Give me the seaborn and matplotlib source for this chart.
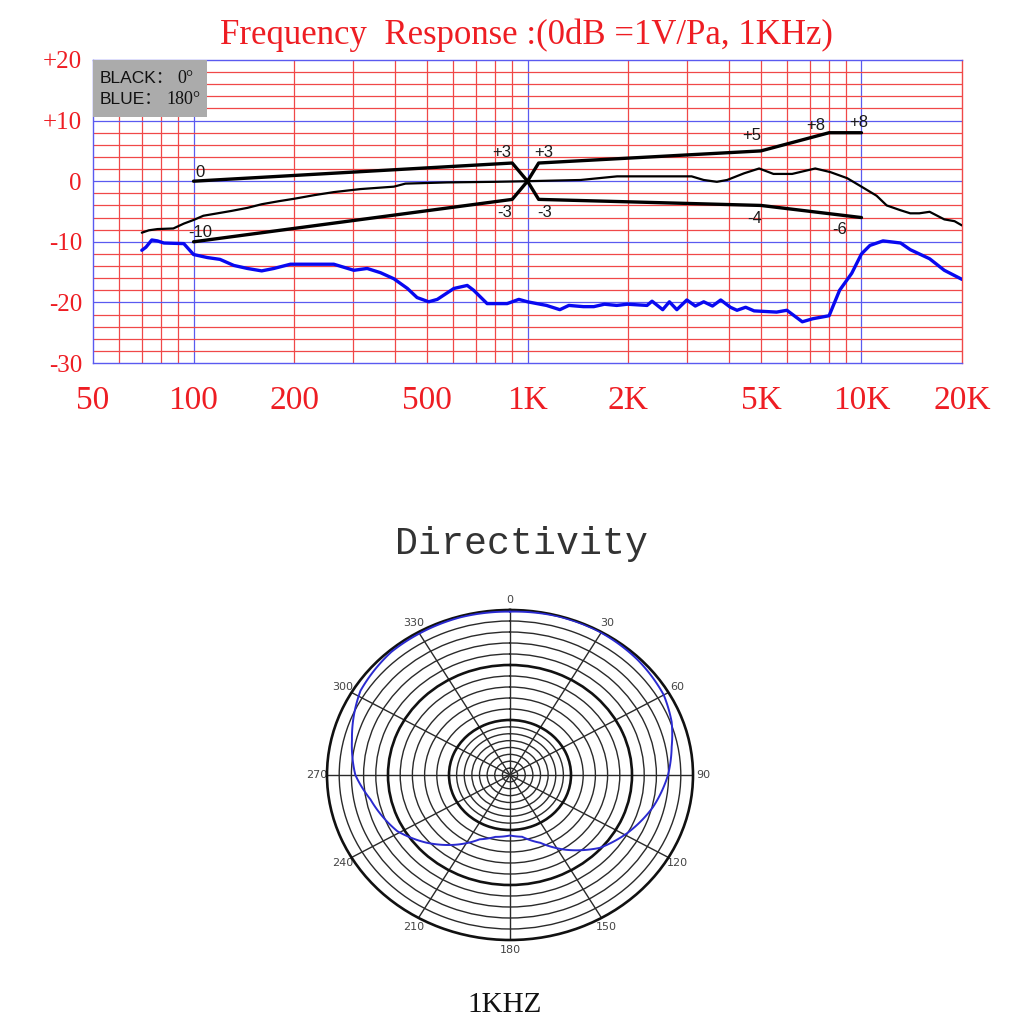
import numpy as np
import pandas as pd
import matplotlib
matplotlib.use("Agg")
import matplotlib.pyplot as plt
import seaborn as sns
from matplotlib.patches import Rectangle

# ---------------- data ----------------
freq_0deg = [70, 73.5, 78, 87, 93.5, 100, 107, 118, 130, 145, 160, 180, 200, 230, 263, 316, 398,
             431, 575, 800, 1000, 1200, 1441, 1855, 2400, 3100, 3370, 3690, 3960, 4450, 4940,
             5450, 6200, 7270, 8070, 9060, 10000, 11100, 11900, 13100, 14000, 14900, 16000,
             17700, 19000, 20000]
db_0deg = [-8.5, -8.1, -7.9, -7.8, -7.0, -6.4, -5.7, -5.3, -4.9, -4.4, -3.8, -3.3, -2.9, -2.3,
           -1.8, -1.3, -0.9, -0.4, -0.2, -0.1, 0.0, 0.1, 0.2, 0.8, 0.8, 0.8, 0.2, -0.1, 0.2, 1.3,
           2.1, 1.2, 1.2, 2.1, 1.5, 0.5, -0.9, -2.4, -4.0, -4.8, -5.3, -5.3, -5.05, -6.3, -6.6,
           -7.3]

freq_180deg = [70, 72, 75, 78, 81.5, 93.5, 100, 110, 120, 132, 145, 160, 174, 195, 263, 302, 331,
               363, 398, 437, 467, 506, 537, 602, 660, 690, 757, 869, 942, 1000, 1140, 1250,
               1330, 1470, 1580, 1700, 1850, 1990, 2280, 2360, 2540, 2660, 2800, 3000, 3180,
               3370, 3580, 3790, 4050, 4240, 4500, 4770, 5570, 5980, 6650, 7140, 8000, 8600,
               9350, 10000, 10600, 11600, 13100, 14000, 16000, 17700, 20000]
db_180deg = [-11.4, -10.9, -9.7, -9.85, -10.2, -10.3, -12.1, -12.6, -12.9, -13.9, -14.4, -14.8,
             -14.4, -13.7, -13.7, -14.7, -14.4, -15.1, -16.1, -17.7, -19.2, -19.9, -19.5, -17.7,
             -17.2, -18.0, -20.2, -20.2, -19.5, -19.9, -20.5, -21.2, -20.5, -20.7, -20.7, -20.3,
             -20.5, -20.3, -20.5, -19.8, -21.2, -19.9, -21.2, -19.6, -20.6, -19.9, -20.6, -19.6,
             -20.8, -21.3, -20.8, -21.4, -21.6, -21.3, -23.2, -22.7, -22.2, -18.0, -15.2, -12.0,
             -10.6, -9.85, -10.2, -11.3, -12.8, -14.7, -16.2]

# tolerance template (two polylines forming the X at 1 kHz)
tmpl_a_freq = [100, 900, 1000, 1080, 5000, 10000]
tmpl_a_db = [0, 3, 0, -3, -4, -6]
tmpl_b_freq = [100, 900, 1000, 1080, 5000, 8000, 10000]
tmpl_b_db = [-10, -3, 0, 3, 5, 8, 8]

tmpl_label_freq = [100, 100, 900, 1080, 900, 1080, 5000, 8000, 10000, 5000, 10000]
tmpl_label_db = [0, -10, 3, 3, -3, -3, 5, 8, 8, -4, -6]
tmpl_label_txt = ["0", "-10", "+3", "+3", "-3", "-3", "+5", "+8", "+8", "-4", "-6"]

x_tick_vals = [50, 100, 200, 500, 1000, 2000, 5000, 10000, 20000]
x_tick_labels = ["50", "100", "200", "500", "1K", "2K", "5K", "10K", "20K"]
y_tick_vals = [20, 10, 0, -10, -20, -30]
y_tick_labels = ["+20", "+10", "0", "-10", "-20", "-30"]

# directivity (1 kHz), angle in degrees, level in dB relative
dir_angle = [0, 15, 29, 45, 60, 70, 79, 90, 104, 119, 132, 146, 158, 170, 180, 192, 203, 216,
             228, 241, 259, 270, 284, 302, 319, 330, 344, 360]
dir_db = [-0.3, -0.1, -0.1, -0.4, -0.9, -1.8, -3.0, -4.1, -5.85, -8.1, -10.2, -13.6, -16.7,
          -18.6, -19.0, -18.5, -17.3, -14.3, -11.6, -8.9, -6.7, -4.65, -3.3, -1.1, -0.35, -0.3,
          -0.2, -0.3]
polar_angle_labels = ["0", "30", "60", "90", "120", "150", "180", "210", "240", "270", "300", "330"]

# ---------------- style ----------------
sns.set_style("white")
plt.rcParams["font.family"] = ["DejaVu Sans", "Noto Sans CJK SC"]

RED = "#ee1d23"
GRID_RED = "#f04848"
GRID_BLUE = "#5a5af0"

fig = plt.figure(figsize=(10.24, 10.24), dpi=100)
W = H = 1024.0

def fx(px):
    return px / W

def fy(py):
    return 1 - py / H

# ---------------- frequency response ----------------
ax = fig.add_axes([fx(93), fy(363), fx(962 - 93), (363 - 60) / H])
ax.set_xscale("log")
ax.set_xlim(50, 20000)
ax.set_ylim(-30, 20)

# grid lines
for dec in [10, 100, 1000, 10000]:
    for m in range(1, 10):
        f = dec * m
        if 50 < f < 20000:
            c = GRID_BLUE if m == 1 else GRID_RED
            ax.axvline(f, color=c, lw=0.9, zorder=0)
for v in range(-28, 20, 2):
    c = GRID_BLUE if v % 10 == 0 else GRID_RED
    ax.axhline(v, color=c, lw=0.9, zorder=0)

for side in ["top", "left", "bottom"]:
    ax.spines[side].set_color(GRID_BLUE)
    ax.spines[side].set_linewidth(1.0)
ax.spines["right"].set_color(GRID_RED)
ax.spines["right"].set_linewidth(1.0)

sns.lineplot(x=freq_180deg, y=db_180deg, ax=ax, color="#0808f0", lw=2.4, sort=False,
             estimator=None, zorder=3)
sns.lineplot(x=freq_0deg, y=db_0deg, ax=ax, color="black", lw=1.6, sort=False,
             estimator=None, zorder=4)
sns.lineplot(x=tmpl_a_freq, y=tmpl_a_db, ax=ax, color="black", lw=2.4, sort=False,
             estimator=None, zorder=5)
sns.lineplot(x=tmpl_b_freq, y=tmpl_b_db, ax=ax, color="black", lw=2.4, sort=False,
             estimator=None, zorder=5)

offsets = [(6, 9), (7, 9), (-10, 11), (5, 11), (-8, -13), (6, -13), (-9, 15), (-13, 7),
           (-3, 10), (-6, -13), (-22, -12)]
for f, d, t, off in zip(tmpl_label_freq, tmpl_label_db, tmpl_label_txt, offsets):
    ax.annotate(t, (f, d), xytext=off, textcoords="offset pixels", ha="center", va="center",
                fontsize=12, family="Liberation Sans", color="#1a1a1a", zorder=6)

ax.set_xticks(x_tick_vals)
ax.set_xticklabels(x_tick_labels)
ax.xaxis.set_minor_locator(matplotlib.ticker.NullLocator())
ax.set_yticks(y_tick_vals)
ax.set_yticklabels(y_tick_labels)
ax.tick_params(axis="x", length=0, pad=16, labelsize=24, labelcolor=RED)
ax.tick_params(axis="y", length=0, pad=8, labelsize=18, labelcolor=RED)
for lab in ax.get_xticklabels() + ax.get_yticklabels():
    lab.set_family("Liberation Serif")
ax.set_xlabel("")
ax.set_ylabel("")

# legend box
ax.add_patch(Rectangle((0.0, 0.812), 0.131, 0.188, transform=ax.transAxes, facecolor="#ababab",
                       edgecolor="none", zorder=7))
ax.text(0.008, 0.94, "BLACK：", transform=ax.transAxes, ha="left", va="center", fontsize=12.5,
        family=["Liberation Sans", "Noto Sans CJK SC"], color="#111", zorder=8)
ax.text(0.097, 0.94, "0°", transform=ax.transAxes, ha="left", va="center", fontsize=13,
        family="Liberation Serif", color="#111", zorder=8)
ax.text(0.008, 0.868, "BLUE：", transform=ax.transAxes, ha="left", va="center", fontsize=12.5,
        family=["Liberation Sans", "Noto Sans CJK SC"], color="#111", zorder=8)
ax.text(0.084, 0.868, "180°", transform=ax.transAxes, ha="left", va="center", fontsize=13,
        family="Liberation Serif", color="#111", zorder=8)

fig.text(fx(526), fy(35), "Frequency  Response :(0dB =1V/Pa, 1KHz)", ha="center", va="center",
         fontsize=25, family="Liberation Serif", color=RED)

# ---------------- directivity ----------------
fig.text(fx(521), fy(544), "Directivity", ha="center", va="center", fontsize=27.5,
         family="Liberation Mono", color="#333333")

pax = fig.add_axes([fx(510 - 183), fy(775 + 165), 366 / W, 330 / H], projection="polar")
pax.set_theta_zero_location("N")
pax.set_theta_direction(-1)
pax.set_aspect("auto")
pax.set_ylim(-30, 0)

rings = list(np.linspace(-30, -20, 9)[1:]) + [-18, -16, -14, -12, -10, -8, -6, -4, -2]
pax.set_yticks(rings)
pax.set_yticklabels([])
pax.set_thetagrids(np.arange(0, 360, 30), labels=polar_angle_labels)
pax.tick_params(axis="x", labelsize=8, labelcolor="#444444", pad=-3)
pax.grid(True, color="#2a2a2a", lw=1.0)
for tick, gl in zip(rings, pax.yaxis.get_gridlines()):
    if abs(tick + 10) < 1e-6 or abs(tick + 20) < 1e-6:
        gl.set_linewidth(1.9)
        gl.set_color("#111111")
pax.spines["polar"].set_color("#111111")
pax.spines["polar"].set_linewidth(1.9)

sns.lineplot(x=np.deg2rad(dir_angle), y=dir_db, ax=pax, color="#2a2ad0", lw=1.4, sort=False,
             estimator=None, zorder=5)
for ln in pax.lines:
    ln.get_path()._interpolation_steps = 40
pax.set_xlabel("")
pax.set_ylabel("")

fig.text(fx(505), fy(1005), "1KHZ", ha="center", va="center", fontsize=21,
         family="Liberation Serif", color="#111111")

fig.savefig("out.png", dpi=100)
